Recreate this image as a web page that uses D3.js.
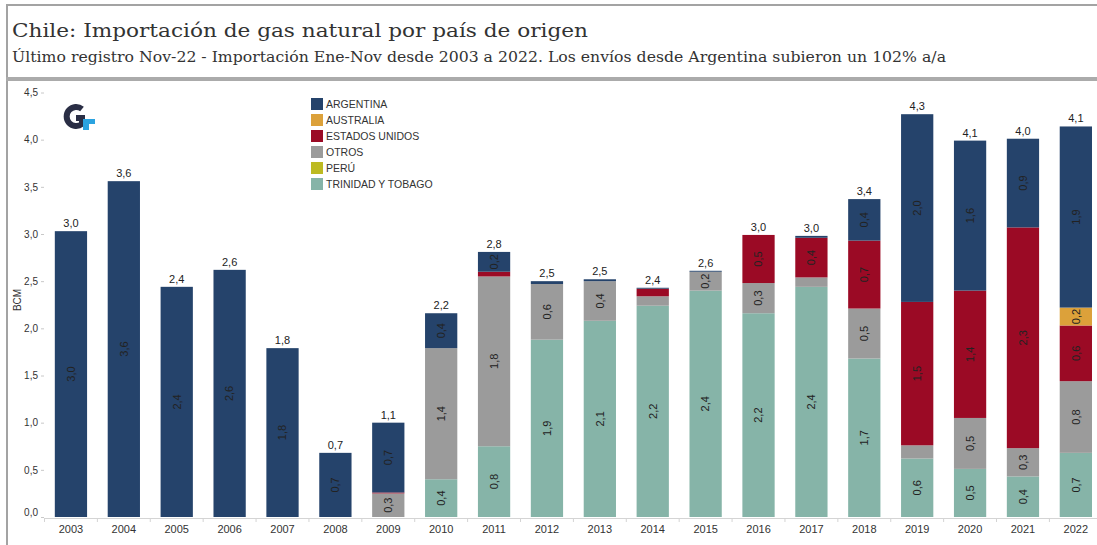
<!DOCTYPE html>
<html>
<head>
<meta charset="utf-8">
<script src="https://cdn.jsdelivr.net/npm/d3@7"></script>
<style>
  body { margin: 0; background: #fff; }
  svg text { font-family: "Liberation Sans", Arial, sans-serif; }
</style>
</head>
<body>
<div id="chart"></div>
<script>
// datos (BCM, Ene-Nov)
const years = ["2003","2004","2005","2006","2007","2008","2009","2010","2011","2012",
               "2013","2014","2015","2016","2017","2018","2019","2020","2021","2022"];

// orden de apilado: de abajo hacia arriba
const seriesNames = ["TRINIDAD Y TOBAGO","PERÚ","OTROS","ESTADOS UNIDOS","AUSTRALIA","ARGENTINA"];
const legendOrder = ["ARGENTINA","AUSTRALIA","ESTADOS UNIDOS","OTROS","PERÚ","TRINIDAD Y TOBAGO"];
const colors = ["#86b4a8","#bdba22","#9b9b9b","#9b0a25","#dca13a","#25436b"];

const trinidad  = [0,0,0,0,0,0,0,0.40,0.75,1.88,2.08,2.24,2.40,2.16,2.44,1.68,0.62,0.51,0.43,0.68];
const peru      = [0,0,0,0,0,0,0,0,0,0,0,0,0,0,0,0,0,0,0,0];
const otros     = [0,0,0,0,0,0,0.25,1.39,1.80,0.59,0.42,0.10,0.20,0.32,0.10,0.53,0.14,0.54,0.30,0.76];
const eeuu      = [0,0,0,0,0,0,0.01,0,0.05,0,0,0.08,0,0.51,0.42,0.72,1.52,1.35,2.34,0.59];
const australia = [0,0,0,0,0,0,0,0,0,0,0,0,0,0,0,0,0,0,0,0.19];
const argentina = [3.03,3.56,2.44,2.62,1.79,0.68,0.74,0.37,0.21,0.03,0.02,0.01,0.01,0,0.02,0.44,1.99,1.59,0.94,1.92];

const totals    = [3.0,3.6,2.4,2.6,1.8,0.7,1.1,2.2,2.8,2.5,2.5,2.4,2.6,3.0,3.0,3.4,4.3,4.1,4.0,4.1];
const yTicks    = [0,0.5,1,1.5,2,2.5,3,3.5,4,4.5];

const title = "Chile: Importación de gas natural por país de origen";
const subtitle = "Último registro Nov-22 - Importación Ene-Nov desde 2003 a 2022. Los envíos desde Argentina subieron un 102% a/a";

// ---------------------------------------------------------------
const W = 1097, H = 545;
const svg = d3.select("#chart").append("svg").attr("width", W).attr("height", H);
const fmt = v => d3.format(".1f")(v).replace(".", ",");

// marco
svg.append("rect").attr("x", 6).attr("y", 4).attr("width", W).attr("height", 2).attr("fill", "#a3a3a3");
svg.append("rect").attr("x", 6).attr("y", 4).attr("width", 2).attr("height", H).attr("fill", "#a3a3a3");
svg.append("rect").attr("x", 6).attr("y", 77).attr("width", W).attr("height", 4).attr("fill", "#ababab");

svg.append("text").attr("x", 12).attr("y", 37)
  .style("font-family", "'DejaVu Serif', serif").style("font-size", "19px").style("fill", "#333")
  .attr("textLength", 576).attr("lengthAdjust", "spacingAndGlyphs")
  .text(title);
svg.append("text").attr("x", 12).attr("y", 62)
  .style("font-family", "'DejaVu Serif', serif").style("font-size", "14.5px").style("fill", "#333")
  .attr("textLength", 934).attr("lengthAdjust", "spacingAndGlyphs")
  .text(subtitle);

// escalas
const x = d3.scaleBand().domain(years).range([44.5, 1102.3]).paddingInner(0.39).paddingOuter(0.195);
const y = d3.scaleLinear().domain([0, 4.5]).range([517, 92.5]);

const table = years.map((yr, i) => ({
  year: yr,
  "TRINIDAD Y TOBAGO": trinidad[i], "PERÚ": peru[i], "OTROS": otros[i],
  "ESTADOS UNIDOS": eeuu[i], "AUSTRALIA": australia[i], "ARGENTINA": argentina[i]
}));
const stack = d3.stack().keys(seriesNames)(table);
const color = d3.scaleOrdinal().domain(seriesNames).range(colors);

// eje y
const yAxis = svg.append("g").attr("transform", "translate(44,0)")
  .call(d3.axisLeft(y).tickValues(yTicks).tickSize(3).tickPadding(3).tickFormat(fmt));
yAxis.select(".domain").remove();
yAxis.selectAll("line").attr("stroke", "#c8c8c8");
yAxis.selectAll("text").style("font-size", "10px").style("fill", "#333")
  .style("font-family", "'Liberation Sans', Arial, sans-serif");
yAxis.selectAll(".tick").filter(d => d === 0).select("text").attr("dy", "-0.2em");

svg.append("text").attr("transform", "translate(21,300) rotate(-90)")
  .attr("text-anchor", "middle").style("font-size", "10px").style("fill", "#333").text("BCM");

// barras
const layers = svg.append("g").selectAll("g").data(stack).join("g")
  .attr("fill", d => color(d.key));
layers.selectAll("rect").data(d => d).join("rect")
  .attr("x", d => x(d.data.year))
  .attr("width", x.bandwidth())
  .attr("y", d => y(d[1]))
  .attr("height", d => Math.max(0, y(d[0]) - y(d[1])));

// etiquetas de segmento (rotadas)
const segLabels = [];
stack.forEach(layer => layer.forEach(d => {
  const v = d[1] - d[0];
  if (v >= 0.17) segLabels.push({ year: d.data.year, v, mid: (d[0] + d[1]) / 2 });
}));
svg.append("g").selectAll("text").data(segLabels).join("text")
  .attr("transform", d => `translate(${x(d.year) + x.bandwidth() / 2},${y(d.mid)}) rotate(-90)`)
  .attr("text-anchor", "middle").attr("dy", "0.35em")
  .style("font-size", "11px").style("fill", "#222")
  .text(d => fmt(d.v));

// totales
svg.append("g").selectAll("text").data(years).join("text")
  .attr("x", d => x(d) + x.bandwidth() / 2)
  .attr("y", (d, i) => y(d3.sum(stack, s => s[i][1] - s[i][0])) - 4)
  .attr("text-anchor", "middle")
  .style("font-size", "11px").style("fill", "#222")
  .text((d, i) => fmt(totals[i]));

// eje x
const xAxis = svg.append("g").attr("transform", "translate(0,518)")
  .call(d3.axisBottom(x).tickSize(0).tickPadding(7));
xAxis.select(".domain").attr("stroke", "#d4d4d4");
xAxis.selectAll("text").style("font-size", "11px").style("fill", "#333")
  .style("font-family", "'Liberation Sans', Arial, sans-serif");
svg.append("g").selectAll("line").data(years).join("line")
  .attr("x1", d => x(d) - x.step() * x.paddingInner() / 2)
  .attr("x2", d => x(d) - x.step() * x.paddingInner() / 2)
  .attr("y1", 518).attr("y2", 522).attr("stroke", "#d4d4d4");

// leyenda
const legend = svg.append("g").attr("transform", "translate(311,98)");
const li = legend.selectAll("g").data(legendOrder).join("g")
  .attr("transform", (d, i) => `translate(0,${i * 16})`);
li.append("rect").attr("width", 12).attr("height", 12).attr("fill", d => color(d));
li.append("text").attr("x", 15).attr("y", 10)
  .style("font-size", "10.5px").style("fill", "#333").text(d => d);

// logo
const logo = svg.append("g").attr("transform", "translate(65,104)");
logo.append("path")
  .attr("d", "M17,5 A9.5,9.5 0 1 0 17,20 L17,14 L11,14")
  .attr("fill", "none").attr("stroke", "#2a2e45").attr("stroke-width", 6);
logo.append("path")
  .attr("d", "M18,15 L30,15 L30,20 L24,20 L24,26 L18,26 Z")
  .attr("fill", "#2ba3e0");
</script>
</body>
</html>
